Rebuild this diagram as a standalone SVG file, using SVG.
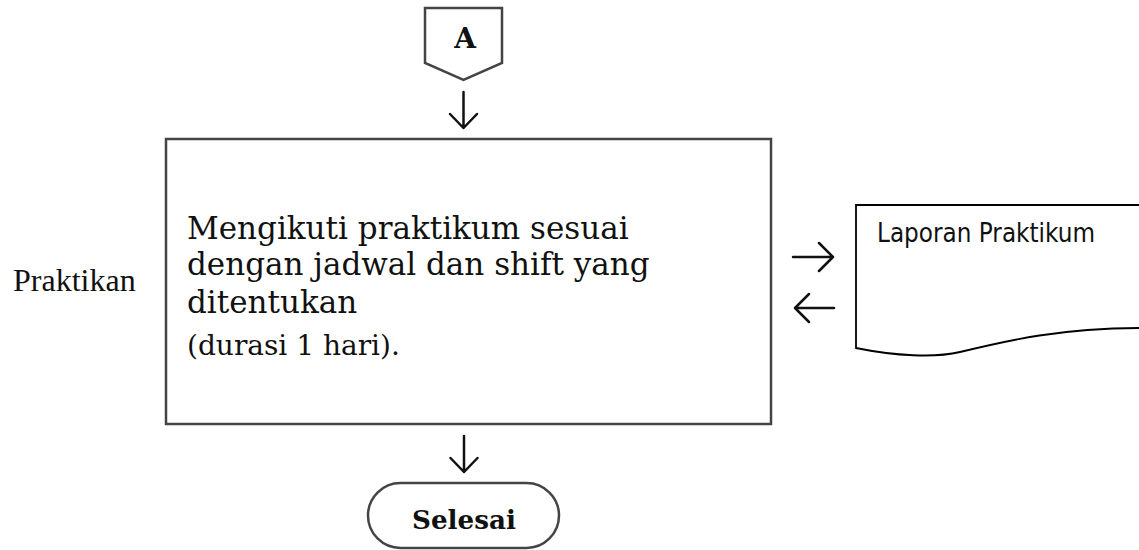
<svg xmlns="http://www.w3.org/2000/svg" width="1139" height="550" viewBox="0 0 1139 550">
<style>
.bk{font-family:"DejaVu Serif","Liberation Serif",serif;fill:#111}
.box{fill:#fff;stroke:#444;stroke-width:2.5}
.arr{fill:none;stroke:#111;stroke-width:2.5;stroke-linecap:round;stroke-linejoin:round}
</style>
<rect width="1139" height="550" fill="#fff"/>
<g id="node-A">
<path class="box" d="M425,8 H502 V63 L463.5,80 L425,63 Z" stroke-width="3.5"/>
<text class="bk" x="465" y="48" font-size="28" font-weight="bold" text-anchor="middle">A</text>
</g>
<g id="node-praktikan-label">
<text x="13" y="291" font-family="Liberation Serif, serif" font-size="32" fill="#111">Praktikan</text>
</g>
<g id="node-process">
<rect class="box" x="166" y="139" width="605" height="285"/>
<text class="bk" font-size="31">
<tspan x="187" y="239">Mengikuti praktikum sesuai</tspan>
<tspan x="187" y="275">dengan jadwal dan shift yang</tspan>
<tspan x="187" y="313">ditentukan</tspan>
</text>
<text class="bk" x="187" y="355" font-size="28" fill="#3a3a3a">(durasi 1 hari).</text>
</g>
<g id="node-laporan">
<path d="M856,205 H1145 V328 C1060,328 1010,340 960,352 C935,358 895,356 856,348 Z" fill="#fff" stroke="#000" stroke-width="1.8"/>
<text x="877" y="242" font-family="DejaVu Sans, Verdana, sans-serif" font-size="26" fill="#111" textLength="218" lengthAdjust="spacingAndGlyphs">Laporan Praktikum</text>
</g>
<g id="node-selesai">
<rect class="box" x="368" y="483" width="191" height="65" rx="32.5" stroke-width="2"/>
<text class="bk" x="464" y="529" font-size="26" font-weight="bold" text-anchor="middle" textLength="104" lengthAdjust="spacingAndGlyphs">Selesai</text>
</g>
<g id="connectors">
<path class="arr" d="M463.5,92 V128 M450,114 L463.5,128 L477,114"/>
<path class="arr" d="M464,436 V472 M450.5,458 L464,472 L477.5,458"/>
<path class="arr" d="M793,257 H833 M819,243 L833,257 L819,271"/>
<path class="arr" d="M834,308 H795 M809,294 L795,308 L809,322"/>
</g>
</svg>
